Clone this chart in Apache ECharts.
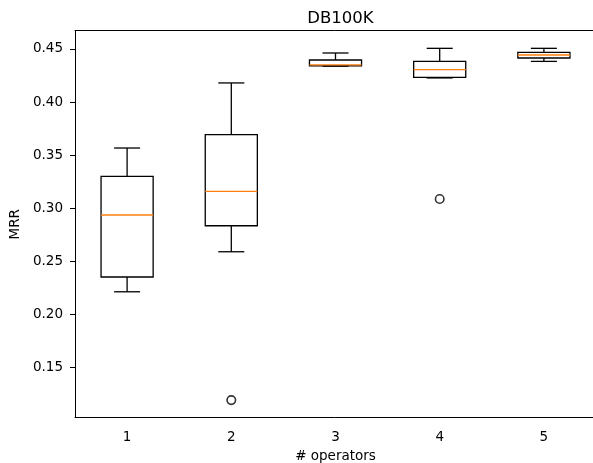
<!DOCTYPE html>
<html>
<head>
<meta charset="utf-8">
<script src="https://cdn.jsdelivr.net/npm/echarts@6/dist/echarts.min.js"></script>
<style>html,body{margin:0;padding:0;background:#fff}#c{width:593px;height:463px}</style>
</head>
<body>
<div id="c"></div>
<script>
const categories = ['1', '2', '3', '4', '5'];
const whiskerLow  = [0.2213, 0.2590, 0.4338, 0.4227, 0.4383];
const q1          = [0.2352, 0.2835, 0.4340, 0.4232, 0.4415];
const median      = [0.2936, 0.3159, 0.4350, 0.4305, 0.4443];
const q3          = [0.3300, 0.3693, 0.4396, 0.4383, 0.4468];
const whiskerHigh = [0.3567, 0.4180, 0.4462, 0.4506, 0.4506];
const outlierCat  = ['2', '4'];
const outlierVal  = [0.1193, 0.3087];
const yTicks = [0.15, 0.20, 0.25, 0.30, 0.35, 0.40, 0.45];

const FONT = 'DejaVu Sans';
const boxData = categories.map((c, i) => [i, whiskerLow[i], q1[i], median[i], q3[i], whiskerHigh[i]]);
const outlierData = outlierCat.map((c, i) => [c, outlierVal[i]]);

const chart = echarts.init(document.getElementById('c'), null, {renderer: 'canvas'});
const LW = 1.3;
chart.setOption({
  animation: false,
  backgroundColor: '#fff',
  title: {
    text: 'DB100K', left: 335.5, top: 5, textAlign: 'center',
    textStyle: {fontFamily: FONT, fontSize: 16.5, fontWeight: 'normal', color: '#000'}
  },
  grid: {left: 75, top: 30.7, width: 521, height: 387, outerBoundsMode: 'none', containLabel: false},
  xAxis: [{
    type: 'category', data: categories, boundaryGap: true,
    name: '# operators', nameLocation: 'middle', nameGap: 29,
    nameTextStyle: {fontFamily: FONT, fontSize: 13.5, color: '#000'},
    axisLine: {lineStyle: {color: '#000', width: 1}},
    axisTick: {alignWithLabel: true, length: 5, lineStyle: {color: '#000'}},
    axisLabel: {fontFamily: FONT, fontSize: 13.5, color: '#000', margin: 13},
    splitLine: {show: false}
  }, {
    type: 'category', data: categories, position: 'top',
    axisLine: {show: true, lineStyle: {color: '#000', width: 1}},
    axisTick: {show: false}, axisLabel: {show: false}, splitLine: {show: false}
  }],
  yAxis: {
    type: 'value', min: 0.1027, max: 0.4672,
    name: 'MRR', nameLocation: 'middle', nameGap: 41, nameRotate: 90,
    nameTextStyle: {fontFamily: FONT, fontSize: 13.5, color: '#000'},
    axisLine: {show: true, lineStyle: {color: '#000', width: 1}},
    axisTick: {show: true, length: 5, lineStyle: {color: '#000'}, customValues: yTicks},
    axisLabel: {fontFamily: FONT, fontSize: 13.5, color: '#000', margin: 12,
      customValues: yTicks, formatter: v => v.toFixed(2)},
    splitLine: {show: false}
  },
  series: [
    {
      type: 'custom',
      data: boxData,
      encode: {x: 0, y: [1, 2, 3, 4, 5]},
      renderItem: function (params, api) {
        const x = api.value(0);
        const pLo = api.coord([x, api.value(1)]);
        const pQ1 = api.coord([x, api.value(2)]);
        const pMed = api.coord([x, api.value(3)]);
        const pQ3 = api.coord([x, api.value(4)]);
        const pHi = api.coord([x, api.value(5)]);
        const band = api.size([1, 0])[0];
        const bw = band * 0.5, cw = band * 0.25;
        const cx = pQ1[0];
        const st = {stroke: '#000', lineWidth: LW, fill: null};
        return {
          type: 'group',
          children: [
            {type: 'line', shape: {x1: cx, y1: pLo[1], x2: cx, y2: pQ1[1]}, style: st},
            {type: 'line', shape: {x1: cx, y1: pQ3[1], x2: cx, y2: pHi[1]}, style: st},
            {type: 'line', shape: {x1: cx - cw / 2, y1: pLo[1], x2: cx + cw / 2, y2: pLo[1]}, style: st},
            {type: 'line', shape: {x1: cx - cw / 2, y1: pHi[1], x2: cx + cw / 2, y2: pHi[1]}, style: st},
            {type: 'rect', shape: {x: cx - bw / 2, y: pQ3[1], width: bw, height: pQ1[1] - pQ3[1]}, style: st},
            {type: 'line', shape: {x1: cx - bw / 2, y1: pMed[1], x2: cx + bw / 2, y2: pMed[1]},
              style: {stroke: '#ff7f0e', lineWidth: LW}}
          ]
        };
      }
    },
    {
      type: 'scatter',
      data: outlierData,
      symbol: 'circle', symbolSize: 8.5,
      itemStyle: {color: '#fff', borderColor: '#000', borderWidth: 1.6}
    }
  ]
});
</script>
</body>
</html>
